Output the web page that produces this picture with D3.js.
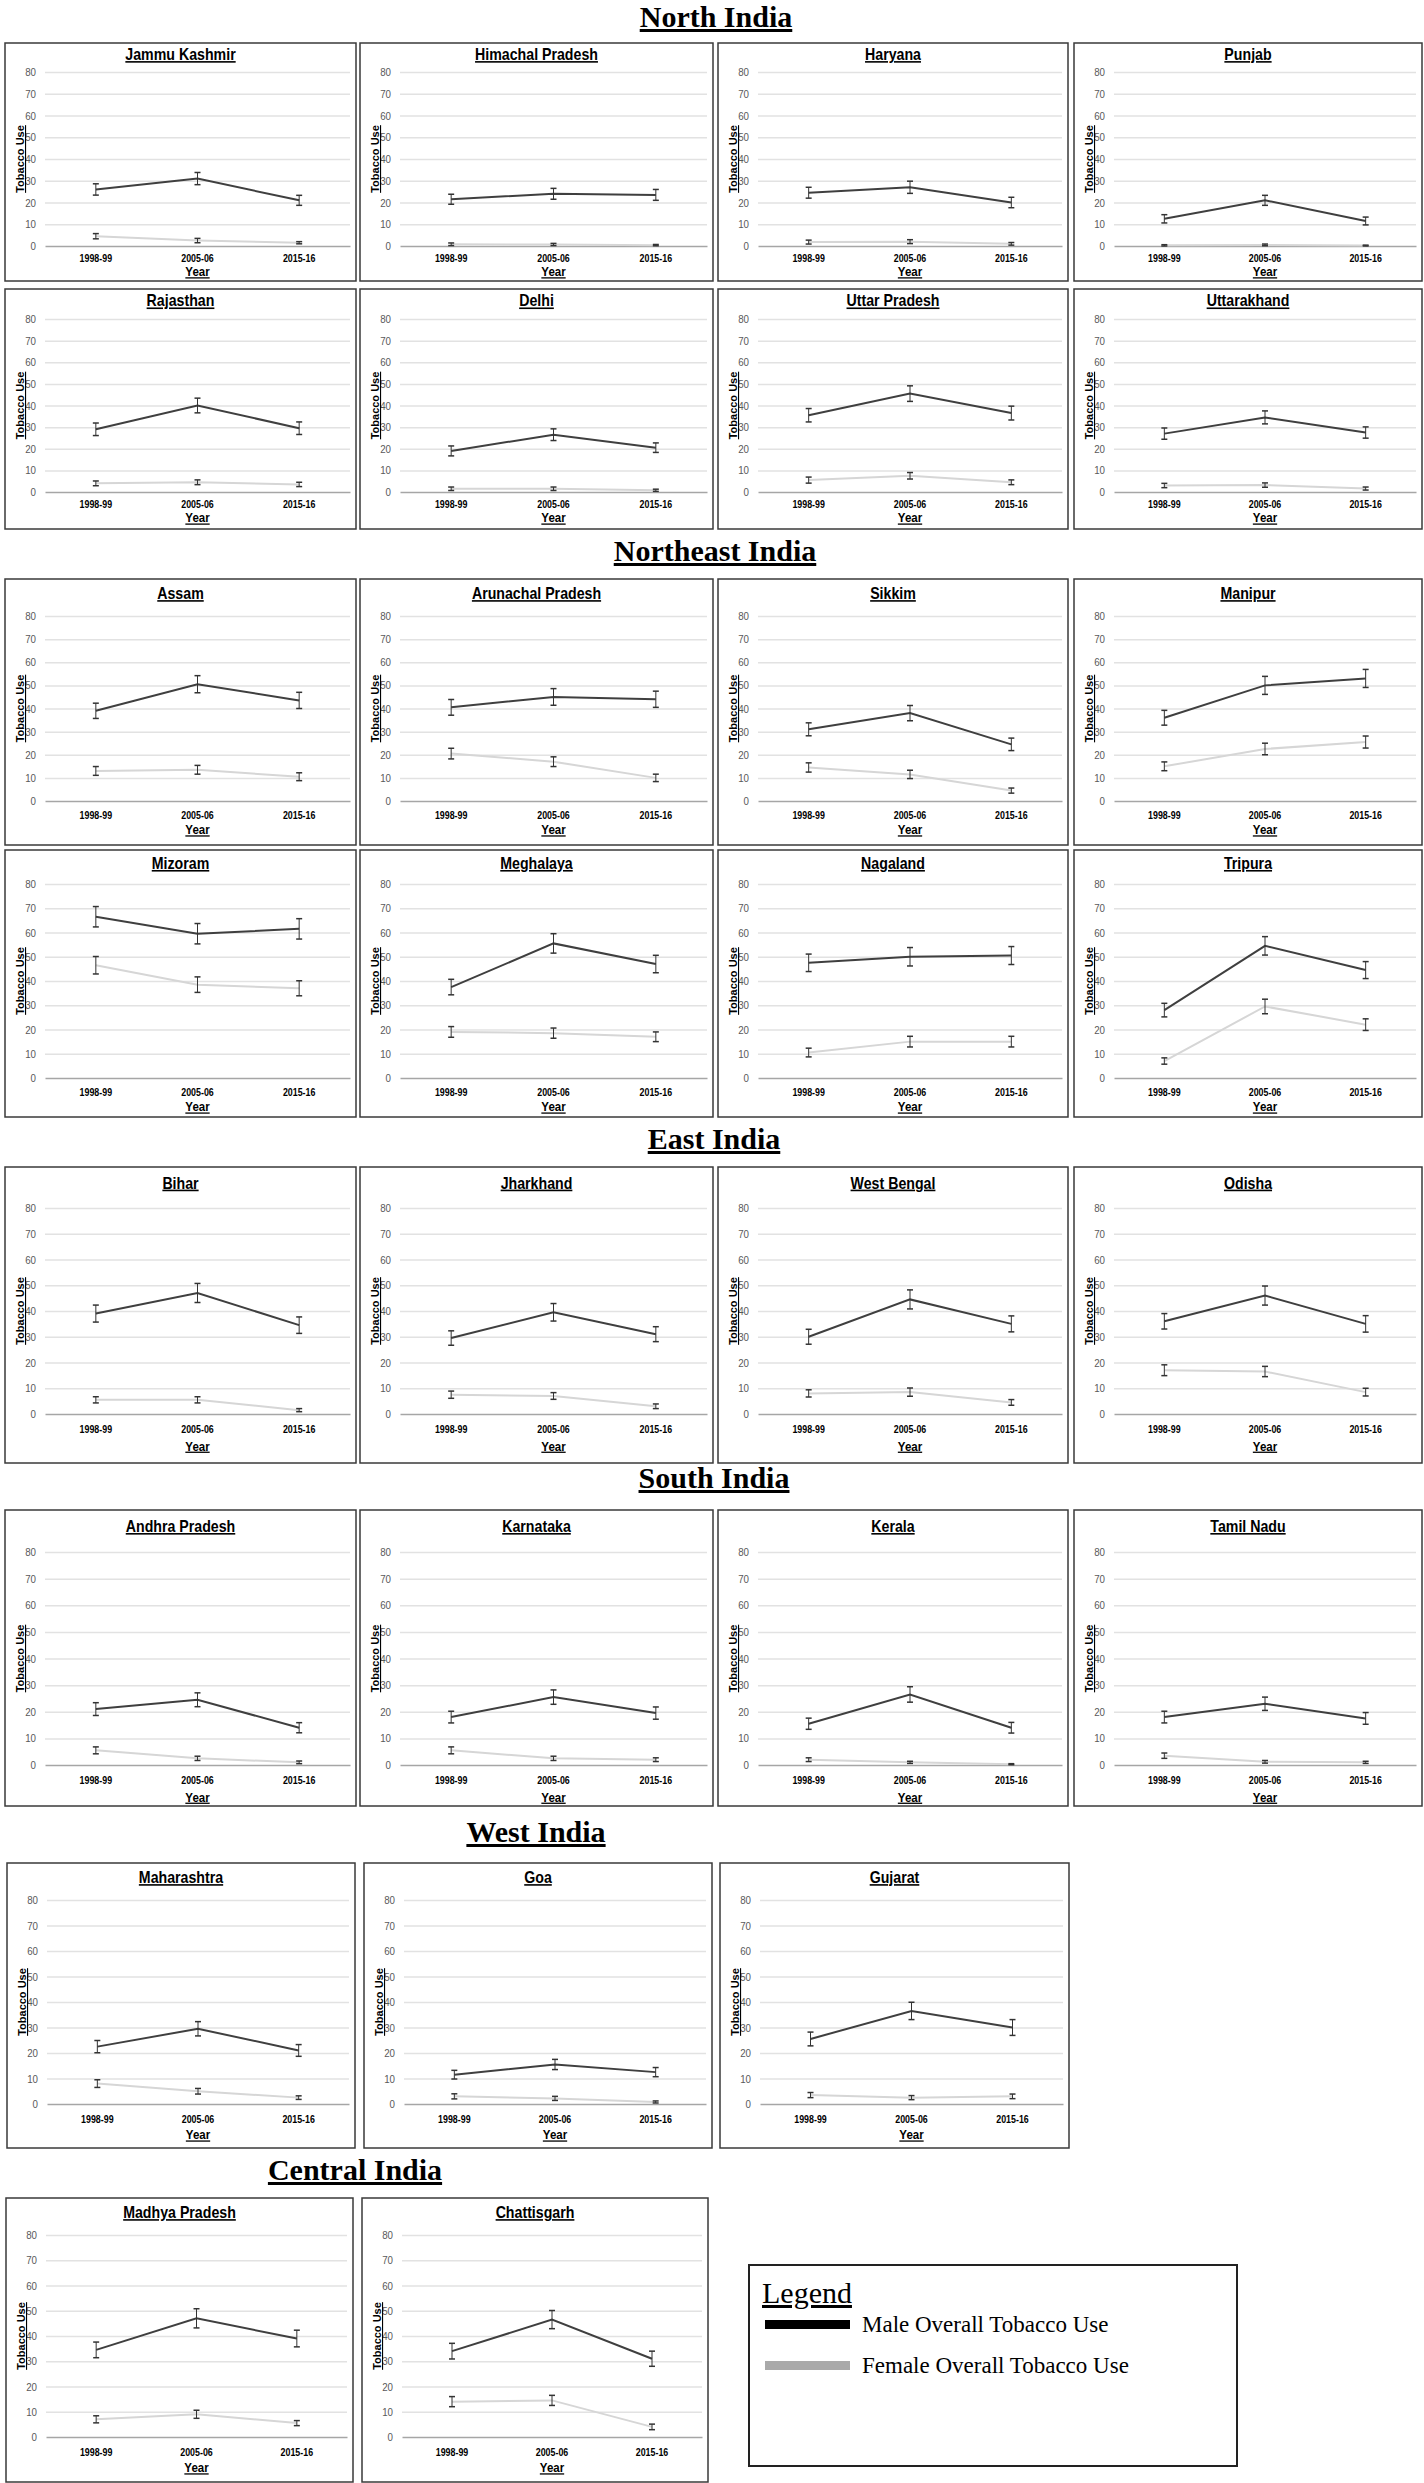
<!DOCTYPE html>
<html><head><meta charset="utf-8">
<script src="https://cdn.jsdelivr.net/npm/d3@7"></script>
<style>body{margin:0;background:#fff} svg{display:block}</style>
</head><body><svg id="c" width="1424" height="2483"></svg>
<script>
// ---------------- DATA ----------------
const years = ["1998-99", "2005-06", "2015-16"];
const regions = ["North India", "Northeast India", "East India", "South India", "West India", "Central India"];
const states = ["Jammu Kashmir","Himachal Pradesh","Haryana","Punjab","Rajasthan","Delhi","Uttar Pradesh","Uttarakhand",
  "Assam","Arunachal Pradesh","Sikkim","Manipur","Mizoram","Meghalaya","Nagaland","Tripura",
  "Bihar","Jharkhand","West Bengal","Odisha",
  "Andhra Pradesh","Karnataka","Kerala","Tamil Nadu",
  "Maharashtra","Goa","Gujarat",
  "Madhya Pradesh","Chattisgarh"];
const stateRegion = [0,0,0,0,0,0,0,0, 1,1,1,1,1,1,1,1, 2,2,2,2, 3,3,3,3, 4,4,4, 5,5];
const maleUse = [
  [26,31,21],[21.5,24,23.5],[24.5,27,20],[12.5,21,11.5],[29,40,29.5],[19,26.5,20.5],[35.5,45.5,36.5],[27,34.5,27.5],
  [39,50.5,43.5],[40.5,45,44],[31,38,24.5],[36,50,53],[66.5,59.5,61.5],[37.5,55.5,47],[47.5,50,50.5],[28,54.5,44.5],
  [39,47,34.5],[29.5,39.5,31],[30,44.5,35],[36,46,35],
  [21,24.5,14],[18,25.5,19.5],[15.5,26.5,14],[18,23,17.5],
  [22.5,29.5,21],[11.5,15.5,12.5],[25.5,36.5,30],
  [34.5,47,39],[34,46.5,31]];
const femaleUse = [
  [4.5,2.5,1.5],[0.8,0.7,0.4],[1.8,2,1],[0.3,0.5,0.2],[4,4.5,3.5],[1.5,1.5,0.8],[5.5,7.5,4.5],[3,3.2,1.6],
  [13,13.5,10.5],[20.5,17,10],[14.5,11.5,4.5],[15,22.5,25.5],[46.5,38.5,37],[19,18.5,17],[10.5,15,15],[7,29.5,22],
  [5.5,5.5,1.5],[7.5,7,3],[8,8.5,4.5],[17,16.5,8.5],
  [5.5,2.5,1],[5.5,2.5,2],[2,1,0.3],[3.5,1.2,1],
  [8,5,2.5],[3,2.2,0.8],[3.5,2.5,3],
  [7,9,5.5],[14,14.5,4]];
const maleErr = [
  [2.6,2.8,2.3],[2.3,2.5,2.5],[2.5,2.8,2.4],[1.9,2.3,1.8],[2.9,3.4,2.9],[2.3,2.7,2.2],[3.1,3.6,3.2],[2.6,3.0,2.6],
  [3.3,3.7,3.5],[3.4,3.6,3.5],[2.8,3.3,2.7],[3.2,3.9,3.9],[4.2,4.2,4.2],[3.2,4.0,3.6],[3.6,3.8,3.7],[2.8,3.8,3.5],
  [3.3,3.7,3.2],[2.8,3.4,2.9],[2.9,3.7,3.1],[3.0,3.7,3.2],
  [2.4,2.6,1.9],[2.2,2.7,2.3],[2.1,2.9,2.0],[2.2,2.5,2.2],
  [2.4,2.8,2.3],[1.7,2.0,1.8],[2.7,3.4,3.1],
  [3.1,3.8,3.3],[3.1,3.6,3.0]];
const femaleErr = [
  [1.2,1.0,0.5],[0.6,0.5,0.3],[0.9,0.9,0.6],[0.3,0.4,0.2],[1.1,1.1,1.0],[0.8,0.8,0.5],[1.4,1.5,1.1],[1.0,1.0,0.7],
  [1.9,1.9,1.7],[2.3,2.1,1.6],[2.0,1.8,1.1],[1.9,2.5,2.6],[3.6,3.2,3.1],[2.2,2.1,2.0],[1.8,2.2,2.2],[1.3,3.0,2.4],
  [1.2,1.2,0.6],[1.4,1.3,0.9],[1.4,1.6,1.1],[2.1,2.0,1.5],
  [1.3,0.8,0.5],[1.3,0.8,0.7],[0.7,0.4,0.2],[1.0,0.5,0.4],
  [1.5,1.1,0.7],[1.0,0.8,0.4],[1.0,0.8,0.9],
  [1.4,1.6,1.0],[2.0,2.0,1.1]];
const yTicks = [0,10,20,30,40,50,60,70,80];
const legendLabels = ["Male Overall Tobacco Use", "Female Overall Tobacco Use"];

// ---------------- LAYOUT ----------------
const NARROW = '"Liberation Sans Narrow","Arial Narrow","Liberation Sans",sans-serif';
const SANS = '"Liberation Sans",Arial,sans-serif';
const SERIF = '"Liberation Serif","Times New Roman",serif';
const cols4 = [[5,356],[360,713],[718,1068],[1074,1422]];
const rows = [
  {top:43,  h:238, pt:29, pb:203, cols:cols4},
  {top:289, h:240, pt:30, pb:203, cols:cols4},
  {top:579, h:266, pt:37, pb:222, cols:cols4},
  {top:850, h:267, pt:34, pb:228, cols:cols4},
  {top:1167,h:296, pt:41, pb:247, cols:cols4},
  {top:1510,h:296, pt:42, pb:255, cols:cols4},
  {top:1863,h:285, pt:37, pb:241, cols:[[7,355],[364,712],[720,1069]]},
  {top:2198,h:284, pt:37, pb:239, cols:[[6,353],[362,708]]}
];
const regionTitlePos = [[716,27],[715,561],[714,1149],[714,1488],[536,1842],[355,2180]];

const svg = d3.select("#c");
svg.append("rect").attr("width",1424).attr("height",2483).attr("fill","#fff");

// probe: horizontal condensing factor so that narrow text matches reference widths
const probe = svg.append("text").attr("font-family",NARROW).attr("font-weight","bold")
  .attr("font-size",16).text("Himachal Pradesh");
const K = Math.min(1, 123 / probe.node().getComputedTextLength());
probe.remove();

// region titles
svg.selectAll("text.region").data(regions).join("text")
  .attr("class","region")
  .attr("x",(d,i)=>regionTitlePos[i][0]).attr("y",(d,i)=>regionTitlePos[i][1])
  .attr("text-anchor","middle").attr("font-family",SERIF).attr("font-weight","bold")
  .attr("font-size",30).attr("text-decoration","underline").attr("fill","#000")
  .text(d=>d);

// assign panels
const panels = [];
let si = 0;
rows.forEach(r => r.cols.forEach(c => { panels.push({state: si, row: r, L: c[0], R: c[1]}); si++; }));

panels.forEach(p => {
  const i = p.state, r = p.row;
  const T = r.top, H = r.h, L = p.L, R = p.R;
  const g = svg.append("g");
  g.append("rect").attr("x",L).attr("y",T).attr("width",R-L).attr("height",H)
    .attr("fill","#fff").attr("stroke","#3a3a3a").attr("stroke-width",1.5);

  const x = d3.scaleBand().domain(years).range([L+40, R-6]);
  const y = d3.scaleLinear().domain([0,80]).range([T+r.pb, T+r.pt]);
  const cx = d => x(d) + x.bandwidth()/2;

  // y axis with gridlines
  g.append("g").attr("transform",`translate(${L+40},0)`)
    .call(d3.axisLeft(y).tickValues(yTicks).tickSize(-(R-6-(L+40))).tickPadding(0).tickFormat(d3.format("d")))
    .call(s=>s.select(".domain").remove())
    .call(s=>s.selectAll(".tick line").attr("stroke",d=>d===0?"none":"#e2e2e2").attr("stroke-width",1.5))
    .call(s=>s.selectAll(".tick text").attr("x",null).attr("fill","#595959").attr("font-family",NARROW).attr("font-size",11)
      .attr("transform",`translate(-9,0) scale(${K},1)`));

  // x axis at 0
  g.append("g").attr("transform",`translate(0,${y(0)})`)
    .call(d3.axisBottom(x).tickSize(0).tickSizeOuter(0).tickPadding(H*0.055-4))
    .call(s=>s.select(".domain").attr("stroke","#a6a6a6").attr("stroke-width",1.5))
    .call(s=>s.selectAll(".tick text").attr("fill","#000").attr("font-family",NARROW)
      .attr("font-weight","bold").attr("font-size",10).attr("transform",`scale(${K},1)`));

  // titles
  g.append("text").attr("transform",`translate(${(L+R)/2},${T + r.pt*0.38 + 6}) scale(${K},1)`)
    .attr("text-anchor","middle").attr("font-family",NARROW).attr("font-weight","bold")
    .attr("font-size",16).attr("text-decoration","underline").attr("fill","#000")
    .text(states[i]);
  g.append("text").attr("transform",`translate(${(L+40+R-6)/2},${T + r.pb + H*0.11 + 4}) scale(${K},1)`)
    .attr("text-anchor","middle").attr("font-family",NARROW).attr("font-weight","bold")
    .attr("font-size",13).attr("text-decoration","underline").attr("fill","#000")
    .text("Year");
  const ym = (y(0)+y(80))/2;
  g.append("text").attr("transform",`translate(${L+19},${ym}) rotate(-90)`)
    .attr("text-anchor","middle").attr("font-family",SANS).attr("font-weight","bold")
    .attr("font-size",11).attr("text-decoration","underline").attr("fill","#000")
    .text("Tobacco Use");

  const series = [
    {vals: femaleUse[i], err: femaleErr[i], color:"#d6d6d6"},
    {vals: maleUse[i], err: maleErr[i], color:"#3f3f3f"}
  ];
  const line = d3.line().x((d,k)=>cx(years[k])).y(d=>y(d));
  series.forEach(s => {
    g.append("path").attr("d", line(s.vals)).attr("fill","none")
      .attr("stroke", s.color).attr("stroke-width", 2);
  });
  series.forEach(s => {
    const eb = g.append("g").attr("stroke","#333").attr("stroke-width",1);
    s.vals.forEach((v,k) => {
      const xx = cx(years[k]);
      const lo = y(Math.max(0, v - s.err[k])), hi = y(v + s.err[k]);
      eb.append("line").attr("x1",xx).attr("x2",xx).attr("y1",lo).attr("y2",hi);
      eb.append("line").attr("x1",xx-3).attr("x2",xx+3).attr("y1",lo).attr("y2",lo).attr("stroke-width",1.5);
      eb.append("line").attr("x1",xx-3).attr("x2",xx+3).attr("y1",hi).attr("y2",hi).attr("stroke-width",1.5);
    });
  });
});

// legend
const lg = svg.append("g");
lg.append("rect").attr("x",749).attr("y",2265).attr("width",488).attr("height",201)
  .attr("fill","#fff").attr("stroke","#222").attr("stroke-width",2);
lg.append("text").attr("x",762).attr("y",2303).attr("font-family",SERIF).attr("font-size",30)
  .attr("text-decoration","underline").attr("fill","#000").text("Legend");
const legColors = ["#000","#a9a9a9"];
lg.selectAll("g.item").data(legendLabels).join("g").attr("class","item")
  .attr("transform",(d,i)=>`translate(0,${2325 + i*41})`)
  .each(function(d,i){
    const it = d3.select(this);
    it.append("rect").attr("x",765).attr("y",-5).attr("width",85).attr("height",9).attr("fill",legColors[i]);
    it.append("text").attr("x",862).attr("y",7).attr("font-family",SERIF).attr("font-size",23)
      .attr("fill","#000").text(d);
  });
</script>
</body></html>
